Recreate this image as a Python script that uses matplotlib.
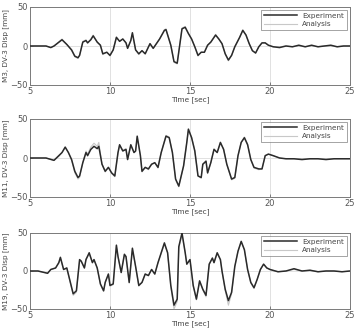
import numpy as np
import matplotlib
matplotlib.use("Agg")
import matplotlib.pyplot as plt

# ---- data (time in s, displacement in mm) ----
t1 = [5.0, 6.0, 6.3, 6.5, 7.0, 7.3, 7.6, 7.8, 8.0, 8.1, 8.3, 8.5, 8.6, 8.8, 8.95,
      9.2, 9.4, 9.55, 9.8, 10.0, 10.2, 10.4, 10.6, 10.8, 11.0, 11.1, 11.3, 11.4,
      11.6, 11.8, 12.0, 12.2, 12.5, 12.7, 12.9, 13.1, 13.4, 13.5, 13.8, 14.0,
      14.2, 14.5, 14.7, 14.9, 15.1, 15.3, 15.5, 15.7, 15.9, 16.1, 16.3, 16.6,
      16.8, 17.0, 17.2, 17.4, 17.6, 17.8, 18.1, 18.3, 18.5, 18.7, 18.9, 19.1,
      19.3, 19.5, 19.7, 19.9, 20.2, 20.6, 21.0, 21.4, 21.8, 22.2, 22.6, 23.0,
      23.4, 23.8, 24.2, 24.6, 25.0]
exp1 = [0, 0, -2, 0, 8, 2, -5, -13, -15, -12, 5, 7, 4, 8, 13,
        5, 1, -10, -8, -12, -5, 11, 6, 9, 4, -3, 7, 17,
        -5, -10, -6, -10, 3, -3, 3, 9, 20, 21, 1, -20,
        -22, 22, 24, 16, 9, -1, -12, -8, -8, 1, 5, 14,
        9, 3, -10, -18, -12, -1, 11, 20, 14, 3, -6, -9,
        -1, 4, 4, 1, -1, -2, 0, -1, 1, -1, 1, -1,
        0, 1, -1, 0, 0]
ana1 = [0, 0, -2, 0, 9, 2, -6, -14, -16, -12, 6, 8, 4, 9, 14,
        5, 1, -11, -8, -13, -5, 12, 6, 9, 4, -3, 7, 16,
        -5, -11, -6, -10, 3, -3, 3, 9, 21, 22, 1, -21,
        -23, 23, 25, 16, 9, -1, -13, -8, -8, 1, 5, 15,
        9, 3, -10, -19, -12, -1, 11, 21, 14, 3, -6, -9,
        -1, 4, 4, 1, -1, -1, 0, -1, 0, -1, 0, -1,
        0, 0, -1, 0, 0]

t2 = [5.0, 6.0, 6.5, 6.8, 7.0, 7.2, 7.4, 7.6, 7.8, 8.0, 8.1, 8.3, 8.5, 8.6,
      8.8, 9.0, 9.2, 9.3, 9.5, 9.7, 9.9, 10.1, 10.3, 10.5, 10.6, 10.8, 11.0,
      11.1, 11.3, 11.5, 11.6, 11.7, 11.9, 12.0, 12.2, 12.4, 12.6, 12.8, 13.0,
      13.2, 13.5, 13.7, 13.9, 14.1, 14.3, 14.6, 14.8, 14.9, 15.1, 15.3, 15.5,
      15.7, 15.8, 16.0, 16.1, 16.3, 16.5, 16.7, 16.9, 17.1, 17.3, 17.6, 17.8,
      18.0, 18.2, 18.4, 18.6, 18.8, 19.0, 19.3, 19.5, 19.7, 19.9, 20.2, 20.6,
      21.0, 21.5, 22.0, 22.5, 23.0, 23.5, 24.0, 24.5, 25.0]
exp2 = [0, 0, -3, 3, 7, 14, 7, -2, -17, -25, -23, -6, 7, 3,
        11, 15, 12, 15, -8, -17, -12, -19, -23, 7, 17, 9, 11,
        -2, 17, 7, 9, 28, 3, -17, -12, -14, -8, -6, -12,
        7, 28, 26, 7, -27, -36, -10, 20, 37, 26, 9, -23,
        -25, -8, -4, -19, -6, 11, 7, 20, 11, -8, -27, -25,
        3, 20, 26, 17, -2, -12, -14, -14, 3, 5, 3, 0,
        -1, -1, -2, -1, -1, -2, -1, -1, -1]
ana2 = [0, 0, -3, 2, 7, 13, 7, -3, -19, -27, -25, -6, 9, 5,
        14, 19, 15, 20, -8, -18, -12, -20, -24, 6, 16, 10, 12,
        -2, 16, 7, 9, 26, 3, -18, -12, -15, -8, -6, -13,
        7, 29, 27, 7, -28, -37, -10, 20, 35, 27, 10, -23,
        -26, -8, -5, -20, -6, 12, 7, 19, 12, -8, -28, -26,
        3, 20, 27, 18, -2, -13, -15, -14, 3, 5, 3, 0,
        -1, -1, -1, -1, -1, -1, -1, -1, -1]

t3 = [5.0, 5.5, 6.1, 6.3, 6.6, 6.8, 6.9, 7.1, 7.3, 7.5, 7.7, 7.9, 8.1, 8.2,
      8.4, 8.5, 8.7, 8.9, 9.0, 9.2, 9.4, 9.6, 9.7, 9.9, 10.0, 10.2, 10.4,
      10.5, 10.7, 10.9, 11.0, 11.2, 11.4, 11.6, 11.8, 12.0, 12.2, 12.4, 12.6,
      12.8, 13.0, 13.2, 13.4, 13.6, 13.8, 14.0, 14.2, 14.3, 14.5, 14.7, 14.8,
      15.0, 15.2, 15.4, 15.6, 15.8, 16.0, 16.2, 16.4, 16.5, 16.7, 16.9, 17.0,
      17.2, 17.4, 17.6, 17.8, 18.0, 18.2, 18.4, 18.6, 18.8, 19.0, 19.2, 19.4,
      19.6, 19.8, 20.0, 20.5, 21.0, 21.5, 22.0, 22.5, 23.0, 23.5, 24.0, 24.5,
      25.0]
exp3 = [0, 0, -3, 2, 4, 11, 18, 2, 4, -13, -30, -26, 15, 13,
        4, 15, 24, 11, 15, 4, -17, -26, -15, -4, -19, -17, 34,
        19, -2, 22, 19, -15, 30, 6, -19, -15, -4, -6, 2,
        -4, 11, 24, 37, 24, -19, -45, -37, 32, 50, 24, 9,
        15, -19, -37, -13, -24, -32, 9, 17, 11, 24, 15, 0,
        -24, -39, -28, 6, 26, 39, 28, 2, -15, -22, -11, 2,
        9, 4, 2, -1, 0, 3, 0, 1, -1, 0, 0, -1,
        0]
ana3 = [0, 0, -3, 2, 4, 10, 17, 2, 4, -14, -32, -28, 14, 13,
        4, 16, 22, 12, 15, 4, -18, -27, -15, -4, -20, -18, 32,
        19, -2, 21, 19, -16, 28, 6, -20, -15, -4, -6, 2,
        -4, 11, 23, 35, 24, -21, -50, -40, 30, 48, 24, 9,
        15, -20, -38, -13, -25, -34, 9, 17, 11, 23, 15, 0,
        -26, -45, -30, 6, 26, 38, 28, 2, -16, -23, -11, 2,
        9, 4, 2, -1, 0, 2, 0, 1, -1, 0, 0, -1,
        0]

ylabels = ["M3, DV-3 Disp [mm]", "M11, DV-3 Disp [mm]", "M19, DV-3 Disp [mm]"]
series = [(t1, exp1, ana1), (t2, exp2, ana2), (t3, exp3, ana3)]

W, H = 357, 330
fig = plt.figure(figsize=(W / 100, H / 100), dpi=100)
# axes boxes in pixels: (top, bottom)
boxes = [(7, 85), (119, 197), (233, 309)]
left, right = 30, 350

for (top, bot), (t, e, a), lab in zip(boxes, series, ylabels):
    ax = fig.add_axes([left / W, 1 - bot / H, (right - left) / W, (bot - top) / H])
    ax.plot(t, a, color="#c8c8c8", lw=0.8, label="Analysis", zorder=2)
    ax.plot(t, e, color="#2a2a2a", lw=1.1, label="Experiment", zorder=3)
    ax.set_xlim(5, 25)
    ax.set_ylim(-50, 50)
    ax.set_xticks([5, 10, 15, 20, 25])
    ax.set_yticks([-50, 0, 50])
    ax.grid(True, color="#dcdcdc", lw=0.6, ls="-")
    ax.set_axisbelow(True)
    ax.tick_params(direction="in", length=2, width=0.5, labelsize=6,
                   colors="#555555", pad=1.5)
    for s in ax.spines.values():
        s.set_color("#7a7a7a")
        s.set_linewidth(0.7)
    ax.set_xlabel("Time [sec]", fontsize=5.3, color="#444444", labelpad=0)
    ax.set_ylabel(lab, fontsize=5.2, color="#444444", labelpad=1)
    h, l = ax.get_legend_handles_labels()
    leg = ax.legend([h[1], h[0]], [l[1], l[0]], loc="upper right", fontsize=5.2,
                    handlelength=4.5, frameon=True, fancybox=False,
                    borderpad=0.4, labelspacing=0.3, borderaxespad=0.4,
                    edgecolor="#7a7a7a", labelcolor="#444444")
    leg.get_frame().set_linewidth(0.6)

fig.savefig("out.png", dpi=100)
